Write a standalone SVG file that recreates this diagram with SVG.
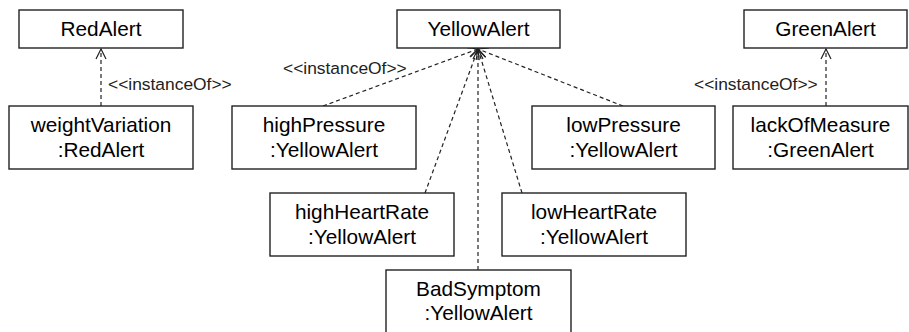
<svg xmlns="http://www.w3.org/2000/svg" width="909" height="332" viewBox="0 0 909 332">
<defs>
<marker id="open" viewBox="0 0 12 12" refX="11" refY="6" markerWidth="12" markerHeight="12" markerUnits="userSpaceOnUse" orient="auto">
<path d="M1,1 L11,6 L1,11" fill="none" stroke="#222" stroke-width="1.2"/>
</marker>
</defs>
<style>
.box{fill:#fff;stroke:#222;stroke-width:1.4}
.t{font-family:"Liberation Sans",Arial,sans-serif;font-size:20.8px;fill:#000;text-anchor:middle}
.lbl{font-family:"Liberation Sans",Arial,sans-serif;font-size:17.4px;fill:#222}
.dep{fill:none;stroke:#222;stroke-width:1.2;stroke-dasharray:4 3;marker-end:url(#open)}
</style>
<rect width="909" height="332" fill="#fff"/>
<g id="connectors">
<line class="dep" x1="101" y1="106" x2="101" y2="49"/>
<line class="dep" x1="323" y1="106" x2="478" y2="49"/>
<line class="dep" x1="623" y1="106" x2="478" y2="49"/>
<line class="dep" x1="425" y1="193" x2="478" y2="49"/>
<line class="dep" x1="522" y1="193" x2="478" y2="49"/>
<line class="dep" x1="478" y1="270" x2="478" y2="49"/>
<line class="dep" x1="826" y1="106" x2="826" y2="49"/>
<text class="lbl" x="108" y="90">&lt;&lt;instanceOf&gt;&gt;</text>
<text class="lbl" x="283" y="74">&lt;&lt;instanceOf&gt;&gt;</text>
<text class="lbl" x="694" y="90">&lt;&lt;instanceOf&gt;&gt;</text>
</g>
<g id="RedAlert"><rect class="box" x="19" y="10" width="164" height="38"/><text class="t" x="101" y="36">RedAlert</text></g>
<g id="YellowAlert"><rect class="box" x="397" y="10" width="163" height="38"/><text class="t" x="478.5" y="36">YellowAlert</text></g>
<g id="GreenAlert"><rect class="box" x="744" y="10" width="163" height="38"/><text class="t" x="825.5" y="36">GreenAlert</text></g>
<g id="weightVariation"><rect class="box" x="9" y="106" width="184" height="63"/><text class="t" x="101" y="132">weightVariation</text><text class="t" x="101" y="157">:RedAlert</text></g>
<g id="highPressure"><rect class="box" x="232" y="106" width="184" height="63"/><text class="t" x="324" y="132">highPressure</text><text class="t" x="324" y="157">:YellowAlert</text></g>
<g id="lowPressure"><rect class="box" x="532" y="106" width="183" height="63"/><text class="t" x="623.5" y="132">lowPressure</text><text class="t" x="623.5" y="157">:YellowAlert</text></g>
<g id="lackOfMeasure"><rect class="box" x="733" y="106" width="175" height="63"/><text class="t" x="820.5" y="132">lackOfMeasure</text><text class="t" x="820.5" y="157">:GreenAlert</text></g>
<g id="highHeartRate"><rect class="box" x="270" y="193" width="184" height="63"/><text class="t" x="362" y="219">highHeartRate</text><text class="t" x="362" y="244">:YellowAlert</text></g>
<g id="lowHeartRate"><rect class="box" x="502" y="193" width="184" height="63"/><text class="t" x="594" y="219">lowHeartRate</text><text class="t" x="594" y="244">:YellowAlert</text></g>
<g id="BadSymptom"><rect class="box" x="386" y="270" width="185" height="70"/><text class="t" x="478.5" y="296">BadSymptom</text><text class="t" x="478.5" y="320">:YellowAlert</text></g>
</svg>
